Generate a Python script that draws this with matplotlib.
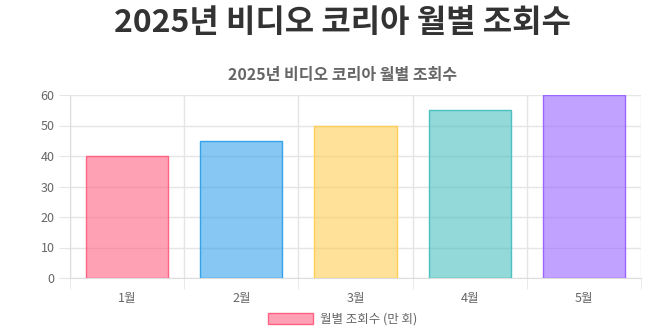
import numpy as np
import matplotlib
matplotlib.use("Agg")
import matplotlib.pyplot as plt
from matplotlib.patches import Patch

plt.rcParams['font.family'] = ['Noto Sans CJK KR', 'DejaVu Sans']

months = ["1월", "2월", "3월", "4월", "5월"]
views = [40, 45, 50, 55, 60]
fill_colors = [(255, 99, 132), (54, 162, 235), (255, 206, 86), (75, 192, 192), (153, 102, 255)]

fig = plt.figure(figsize=(6.57, 3.3), dpi=100)
ax = fig.add_axes([70/657, 1-278/330, 571/657, 183/330])

x = np.arange(len(months))
fc = [(r/255, g/255, b/255, 0.6) for r, g, b in fill_colors]
ec = [(r/255, g/255, b/255, 1.0) for r, g, b in fill_colors]
ax.bar(x, views, width=0.72, color=fc, edgecolor=ec, linewidth=1, zorder=3)

ax.set_xlim(-0.5, len(months) - 0.5)
ax.set_ylim(0, 60)
ax.set_yticks(range(0, 61, 10))
ax.set_xticks(x)
ax.set_xticklabels(months)
# grid lines at category boundaries
ax.set_xticks(np.arange(-0.5, len(months)), minor=True)
ax.grid(True, axis='y', color='#e5e5e5', linewidth=1, zorder=0)
ax.grid(True, axis='x', which='minor', color='#e5e5e5', linewidth=1, zorder=0)
ax.tick_params(axis='x', which='major', length=0, pad=10, labelsize=9, labelcolor='#666666')
ax.tick_params(axis='x', which='minor', length=8, color='#e5e5e5')
ax.tick_params(axis='y', length=8, color='#e5e5e5', labelsize=9, labelcolor='#666666', pad=3)
for s in ['top', 'right']:
    ax.spines[s].set_visible(False)
for s in ['left', 'bottom']:
    ax.spines[s].set_color('#dddddd')

cx = 342.5 / 657  # titles and legend are centred on the canvas, not the plot
fig.text(cx, 1-23/330, "2025년 비디오 코리아 월별 조회수", ha='center', va='center',
         fontsize=23, fontweight='bold', color='#333333')
fig.text(cx, 1-75/330, "2025년 비디오 코리아 월별 조회수", ha='center', va='center',
         fontsize=11.5, fontweight='bold', color='#666666')

handle = Patch(facecolor=fc[0], edgecolor=ec[0], linewidth=1)
fig.legend([handle], ["월별 조회수 (만 회)"], loc='center', bbox_to_anchor=(cx, 1-319/330),
           frameon=False, fontsize=9, handlelength=3.6, handleheight=1.0,
           labelcolor='#666666', handletextpad=0.5)

plt.savefig('out.png', dpi=100)
